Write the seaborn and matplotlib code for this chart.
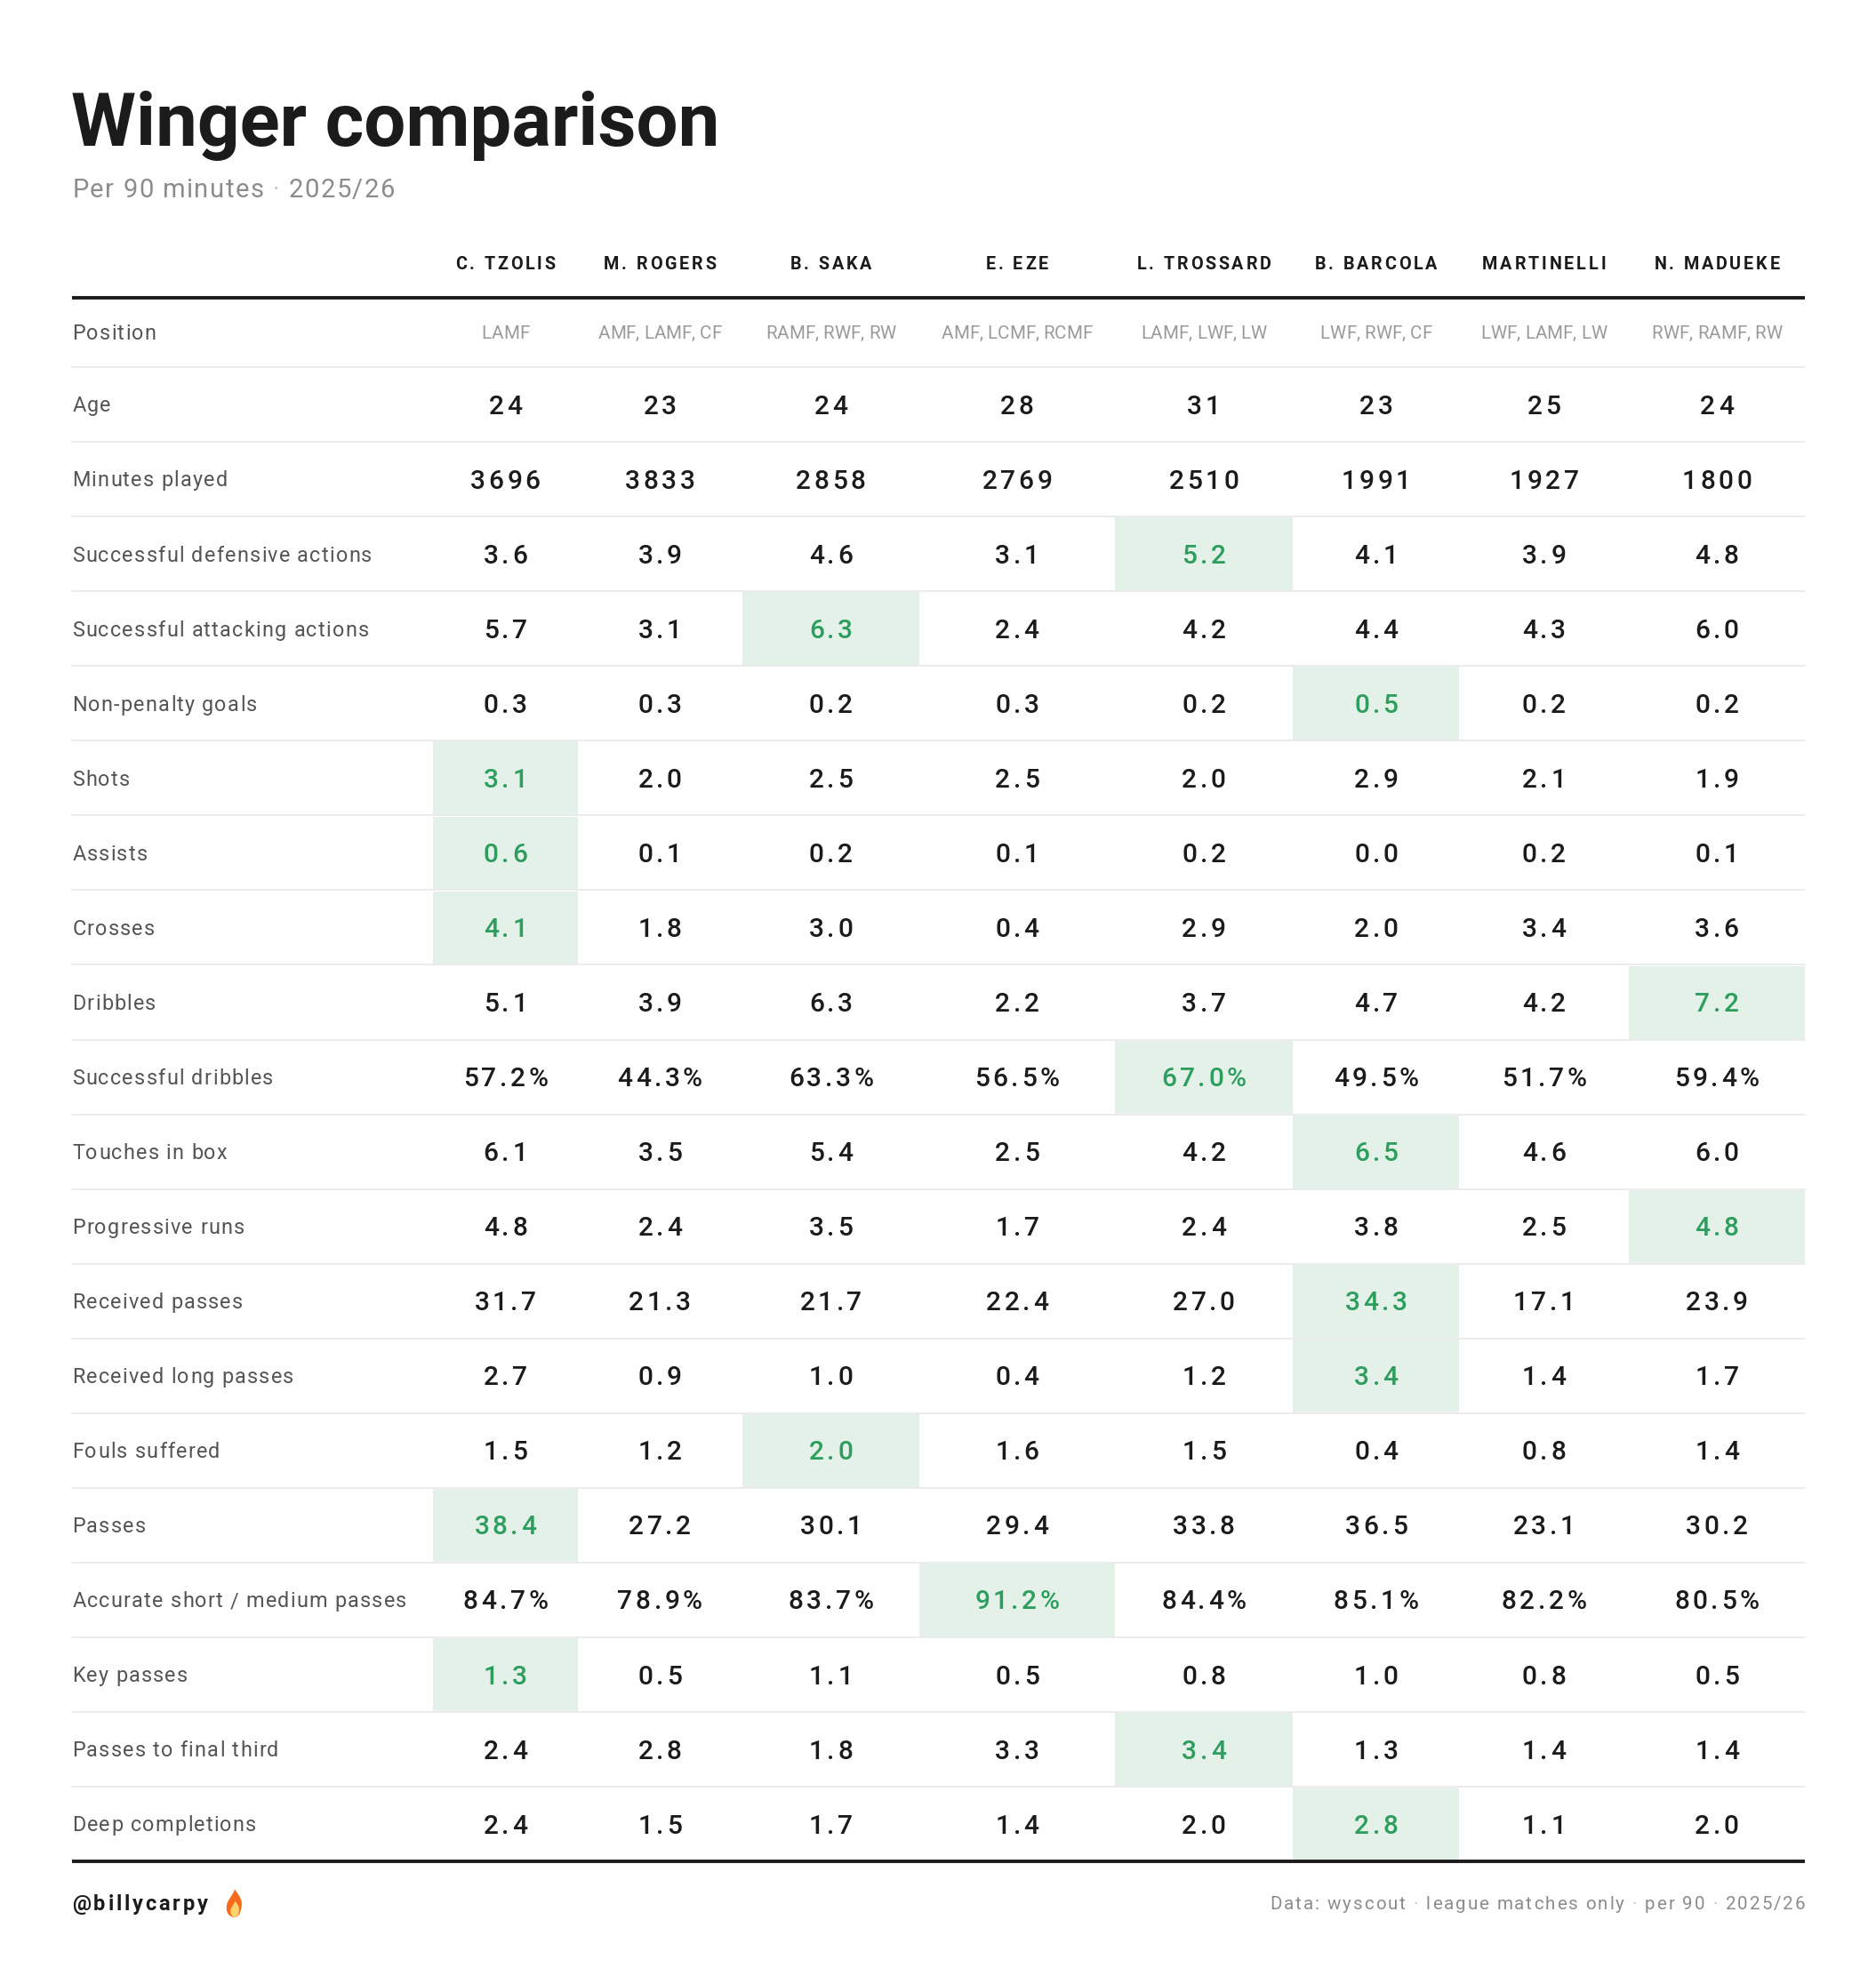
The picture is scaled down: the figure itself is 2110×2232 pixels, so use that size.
import numpy as np
import pandas as pd
import seaborn as sns
import matplotlib.pyplot as plt
from matplotlib.patches import Rectangle, PathPatch
from matplotlib.path import Path
from matplotlib.font_manager import FontProperties
from matplotlib.textpath import TextToPath

# -----------------------------
# Data
# -----------------------------
players = ["C. TZOLIS", "M. ROGERS", "B. SAKA", "E. EZE",
           "L. TROSSARD", "B. BARCOLA", "MARTINELLI", "N. MADUEKE"]
positions = ["LAMF", "AMF, LAMF, CF", "RAMF, RWF, RW", "AMF, LCMF, RCMF",
             "LAMF, LWF, LW", "LWF, RWF, CF", "LWF, LAMF, LW", "RWF, RAMF, RW"]

stat_names = ["Age", "Minutes played", "Successful defensive actions",
              "Successful attacking actions", "Non-penalty goals", "Shots",
              "Assists", "Crosses", "Dribbles", "Successful dribbles",
              "Touches in box", "Progressive runs", "Received passes",
              "Received long passes", "Fouls suffered", "Passes",
              "Accurate short / medium passes", "Key passes",
              "Passes to final third", "Deep completions"]

age = [24, 23, 24, 28, 31, 23, 25, 24]
minutes = [3696, 3833, 2858, 2769, 2510, 1991, 1927, 1800]
def_actions = [3.6, 3.9, 4.6, 3.1, 5.2, 4.1, 3.9, 4.8]
att_actions = [5.7, 3.1, 6.3, 2.4, 4.2, 4.4, 4.3, 6.0]
np_goals = [0.3, 0.3, 0.2, 0.3, 0.2, 0.5, 0.2, 0.2]
shots = [3.1, 2.0, 2.5, 2.5, 2.0, 2.9, 2.1, 1.9]
assists = [0.6, 0.1, 0.2, 0.1, 0.2, 0.0, 0.2, 0.1]
crosses = [4.1, 1.8, 3.0, 0.4, 2.9, 2.0, 3.4, 3.6]
dribbles = [5.1, 3.9, 6.3, 2.2, 3.7, 4.7, 4.2, 7.2]
succ_dribbles = [57.2, 44.3, 63.3, 56.5, 67.0, 49.5, 51.7, 59.4]
touches_box = [6.1, 3.5, 5.4, 2.5, 4.2, 6.5, 4.6, 6.0]
prog_runs = [4.8, 2.4, 3.5, 1.7, 2.4, 3.8, 2.5, 4.8]
received = [31.7, 21.3, 21.7, 22.4, 27.0, 34.3, 17.1, 23.9]
received_long = [2.7, 0.9, 1.0, 0.4, 1.2, 3.4, 1.4, 1.7]
fouls = [1.5, 1.2, 2.0, 1.6, 1.5, 0.4, 0.8, 1.4]
passes = [38.4, 27.2, 30.1, 29.4, 33.8, 36.5, 23.1, 30.2]
acc_passes = [84.7, 78.9, 83.7, 91.2, 84.4, 85.1, 82.2, 80.5]
key_passes = [1.3, 0.5, 1.1, 0.5, 0.8, 1.0, 0.8, 0.5]
final_third = [2.4, 2.8, 1.8, 3.3, 3.4, 1.3, 1.4, 1.4]
deep = [2.4, 1.5, 1.7, 1.4, 2.0, 2.8, 1.1, 2.0]

stat_values = [age, minutes, def_actions, att_actions, np_goals, shots,
               assists, crosses, dribbles, succ_dribbles, touches_box,
               prog_runs, received, received_long, fouls, passes,
               acc_passes, key_passes, final_third, deep]
stat_formats = ["int", "int"] + ["dec"] * 7 + ["pct"] + ["dec"] * 6 + ["pct"] + ["dec"] * 3

# best player in each row (highlighted cell)
best = [None, None, "L. TROSSARD", "B. SAKA", "B. BARCOLA", "C. TZOLIS",
        "C. TZOLIS", "C. TZOLIS", "N. MADUEKE", "L. TROSSARD", "B. BARCOLA",
        "N. MADUEKE", "B. BARCOLA", "B. BARCOLA", "B. SAKA", "C. TZOLIS",
        "E. EZE", "C. TZOLIS", "L. TROSSARD", "B. BARCOLA"]

rows = []
for i, (name, vals, fmt) in enumerate(zip(stat_names, stat_values, stat_formats)):
    for j, (p, v) in enumerate(zip(players, vals)):
        if fmt == "int":
            txt = f"{int(v)}"
        elif fmt == "pct":
            txt = f"{v:.1f}%"
        else:
            txt = f"{v:.1f}"
        rows.append({"row": i, "col": j, "stat": name, "player": p,
                     "text": txt, "best": best[i] == p})
df = pd.DataFrame(rows)

# -----------------------------
# Styling / layout
# -----------------------------
sns.set_theme(style="white")
FAMILY = ['Roboto', 'DejaVu Sans']
plt.rcParams['font.family'] = FAMILY

INK = "#1b1b1b"
LABEL = "#555555"
MUTED = "#9a9a9a"
FOOT = "#8c8c8c"
GRID = "#ebebeb"
HL_BG = "#e3f1e9"
HL_TX = "#2e9e5e"

SCALE = 1.4245                       # output px per layout unit
W, H = 2110 / SCALE, 2232 / SCALE
PT = SCALE * 72 / 100                # points per layout unit
CAP = 0.711                          # Roboto cap height (em)

left, right = 57, 1425
col_edges = [342, 456, 586, 726, 880, 1021, 1152, 1286, 1425]
col_centers = [(a + b) / 2 for a, b in zip(col_edges[:-1], col_edges[1:])]
header_y = 208
top_rule = 235
pos_bottom = 290
row_h = 59

fig = plt.figure(figsize=(21.1, 22.32), dpi=100)
ax = fig.add_axes([0, 0, 1, 1])
ax.set_xlim(0, W)
ax.set_ylim(H, 0)
ax.axis("off")

t2p = TextToPath()


def ink_w(s, fp):
    if not s.strip():
        return 0.0
    w, _, _ = t2p.get_text_width_height_descent(s, fp, ismath=False)
    return w / PT


def tracked(x, yc, s, size, track=0.0, ha="left", weight="normal",
            color=INK, dot_color=None):
    """Letter-spaced text, vertically centred on its cap height."""
    fp = FontProperties(family=FAMILY, size=size, weight=weight)
    total = ink_w(s, fp) + track * (len(s) - 1)
    x0 = {"left": x, "center": x - total / 2, "right": x - total}[ha]
    base = yc + CAP * size / PT / 2
    for k, ch in enumerate(s):
        if ch == " ":
            continue
        off = ink_w(s[:k + 1], fp) - ink_w(ch, fp) + k * track
        c = dot_color if (ch == "\u00b7" and dot_color) else color
        ax.text(x0 + off, base, ch, fontproperties=fp, color=c,
                ha="left", va="baseline")


# title block
ax.text(left - 1, 115, "Winger comparison", fontsize=60, fontweight="bold",
        color=INK, va="baseline", ha="left")
tracked(left, 148.5, "Per 90 minutes \u00b7 2025/26", 21, track=1.05,
        color="#8c8c8c", dot_color="#c4c4c4")

# column headers
for x, p in zip(col_centers, players):
    tracked(x, header_y, p, 14.2, track=2.0, ha="center", weight="bold")
ax.plot([left, right], [top_rule, top_rule], color=INK, lw=2.8,
        solid_capstyle="butt")

# position row
pos_c = (top_rule + pos_bottom) / 2
tracked(left, pos_c, "Position", 16.8, track=0.9, color=LABEL)
for x, pos in zip(col_centers, positions):
    tracked(x, pos_c, pos, 14.8, track=0.0, ha="center", color=MUTED)
ax.plot([left, right], [pos_bottom, pos_bottom], color=GRID, lw=1.3)

# stat rows
for i, name in enumerate(stat_names):
    y0 = pos_bottom + i * row_h
    tracked(left, y0 + row_h / 2, name, 16.8, track=0.9, color=LABEL)
    if i < len(stat_names) - 1:
        ax.plot([left, right], [y0 + row_h, y0 + row_h], color=GRID, lw=1.3)

for _, r in df.iterrows():
    y0 = pos_bottom + r["row"] * row_h
    x0, x1 = col_edges[r["col"]], col_edges[r["col"] + 1]
    if r["best"]:
        ax.add_patch(Rectangle((x0, y0 + 0.8), x1 - x0, row_h - 0.8,
                               facecolor=HL_BG, edgecolor="none", zorder=0))
    tracked(col_centers[r["col"]], y0 + row_h / 2, r["text"], 21.5,
            track=2.5, ha="center", weight="medium",
            color=HL_TX if r["best"] else INK)

bottom_rule = pos_bottom + len(stat_names) * row_h
ax.plot([left, right], [bottom_rule, bottom_rule], color=INK, lw=2.8,
        solid_capstyle="butt")

# footer
tracked(left, 1503, "@billycarpy", 17, track=2.0, weight="bold")
tracked(right, 1503,
        "Data: wyscout \u00b7 league matches only \u00b7 per 90 \u00b7 2025/26",
        14.8, track=1.35, ha="right", color=FOOT, dot_color="#c4c4c4")


# small flame next to the handle
def flame(cx, cy, s, color):
    verts = [(0, -1), (-0.75, -1), (-0.8, -0.15), (-0.45, 0.25),
             (-0.25, 0.5), (-0.1, 0.7), (0.05, 1.0),
             (0.25, 0.65), (0.75, 0.35), (0.6, -0.3),
             (0.5, -0.85), (0.3, -1), (0, -1)]
    codes = [Path.MOVETO] + [Path.CURVE4] * 12
    pts = [(cx + s * 0.85 * vx, cy - s * vy) for vx, vy in verts]
    ax.add_patch(PathPatch(Path(pts, codes), facecolor=color,
                           edgecolor="none"))


flame(185, 1503, 11, "#f76a1c")
flame(185.5, 1507.5, 6.3, "#ffd36b")

plt.savefig("out.png", dpi=100)
plt.close()
